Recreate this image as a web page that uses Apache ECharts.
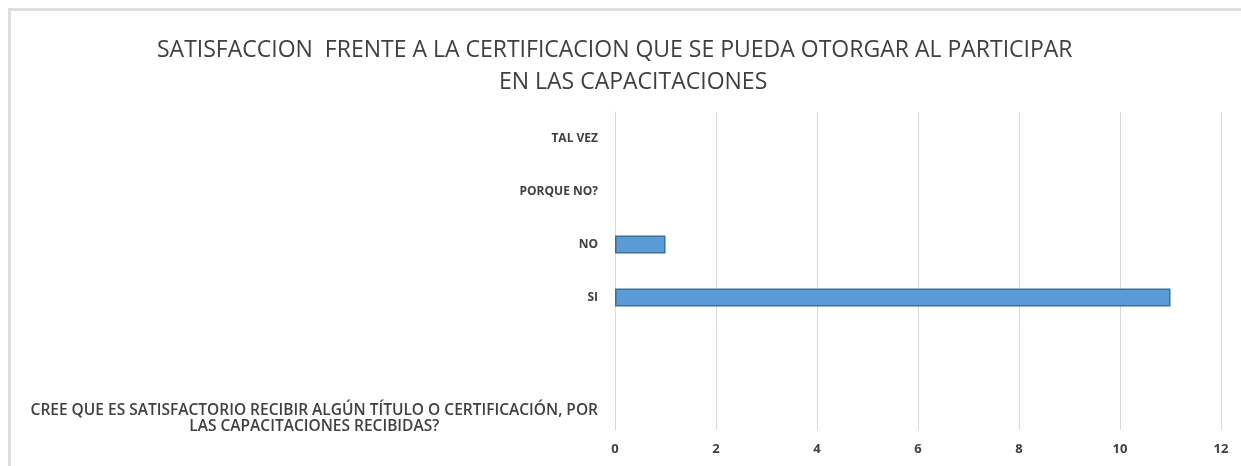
<!DOCTYPE html>
<html>
<head>
<meta charset="utf-8">
<script src="https://cdn.jsdelivr.net/npm/echarts@6/dist/echarts.min.js"></script>
<style>
  html, body { margin: 0; padding: 0; background: #fff; overflow: hidden; }
  #frame { position: absolute; left: 8px; top: 8px; width: 1300px; height: 500px;
           border-left: 3px solid #dedede; border-top: 3px solid #dedede; }
  #chart { position: absolute; left: 0; top: 0; width: 1241px; height: 466px; }
</style>
</head>
<body>
<div id="frame"></div>
<div id="chart"></div>
<script>
// 标题、类别与数值（类别自下而上）
const titleLines = [
  'SATISFACCION  FRENTE A LA CERTIFICACION QUE SE PUEDA OTORGAR AL PARTICIPAR',
  'EN LAS CAPACITACIONES'
];
const categories = [
  'CREE QUE ES SATISFACTORIO RECIBIR ALGÚN TÍTULO O CERTIFICACIÓN, POR\nLAS CAPACITACIONES RECIBIDAS?',
  '', 'SI', 'NO', 'PORQUE NO?', 'TAL VEZ'
];
const values = [null, null, 11, 1, null, null];
const xTicks = { min: 0, max: 12, interval: 2 };

const font = '"Open Sans", sans-serif';
const titleStyle = { fontFamily: font, fontSize: 23, fontWeight: 'normal', color: '#404040' };
const titleLeft = [152, 494];   // 两行标题的左边位置（参考图两行并非严格居中）

const chart = echarts.init(document.getElementById('chart'));
chart.setOption({
  animation: false,
  title: titleLines.map((t, i) => ({
    text: t, left: titleLeft[i], top: 34 + i * 32, textStyle: titleStyle
  })),
  grid: { left: 615, right: 20, top: 112, bottom: 36 },
  xAxis: {
    type: 'value', min: xTicks.min, max: xTicks.max, interval: xTicks.interval,
    axisLine: { show: false }, axisTick: { show: false },
    splitLine: { lineStyle: { color: '#d9d9d9', width: 1 } },
    axisLabel: { margin: 13, fontFamily: font, fontSize: 13, fontWeight: 'bold', color: '#404040' }
  },
  yAxis: {
    type: 'category', data: categories,
    axisLine: { lineStyle: { color: '#d9d9d9' } }, axisTick: { show: false },
    axisLabel: {
      margin: 17, fontFamily: font, fontSize: 12, fontWeight: 'bold', color: '#404040',
      align: 'right',
      formatter: (v, i) => i === 0 ? '{q|' + v.replace('\n', '}\n{q|') + '}' : v,
      rich: {
        q: { fontFamily: font, fontSize: 15.5, fontWeight: 600, color: '#404040',
             lineHeight: 16, align: 'center', padding: [30, 0, 0, 0] }
      }
    }
  },
  series: [{
    type: 'bar', data: values, barWidth: 18,
    itemStyle: { color: '#5b9bd5', borderColor: '#3d6f9e', borderWidth: 1.5 }
  }]
});
</script>
</body>
</html>
